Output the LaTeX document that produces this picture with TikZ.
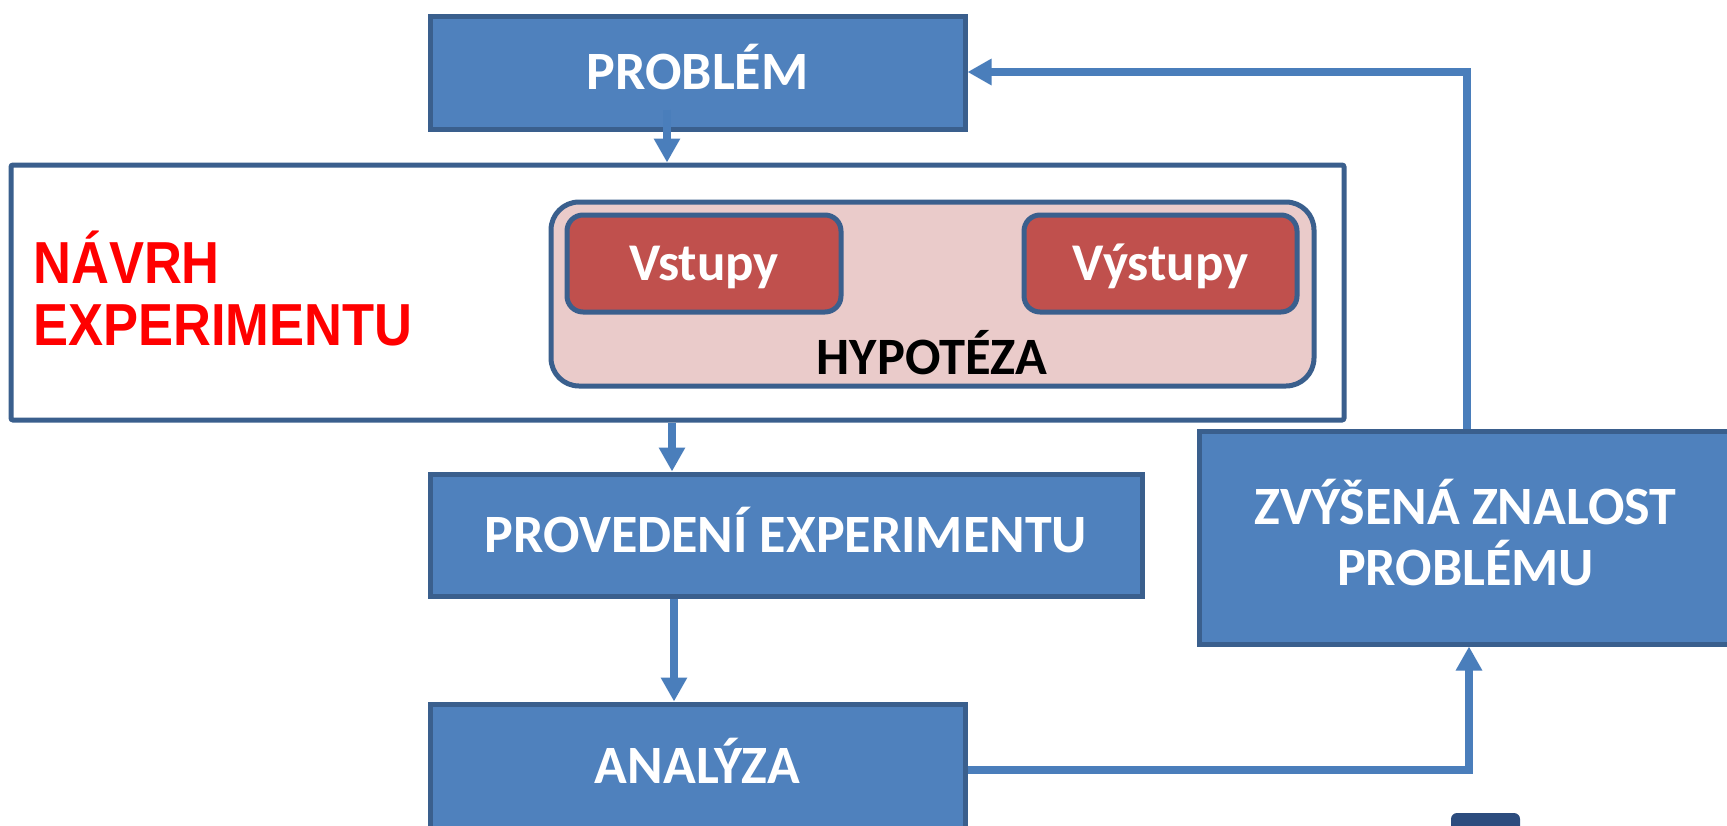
\documentclass[tikz,border=0pt]{standalone}
\usepackage{fontspec}
\usepackage{graphicx}
\setmainfont{Carlito}
\newfontfamily\arialfont{Liberation Sans}
\usetikzlibrary{arrows.meta}
\definecolor{boxblue}{HTML}{4F81BD}
\definecolor{edgeblue}{HTML}{3A5F8D}
\definecolor{linkblue}{HTML}{4A7EBB}
\definecolor{hypred}{HTML}{C0504D}
\definecolor{hyppink}{HTML}{EACBCA}
\definecolor{navyblock}{HTML}{2C4C7E}
\definecolor{titlered}{HTML}{FF0000}
\newcommand{\tallred}[1]{\scalebox{1}[1.13]{#1}}
\begin{document}
\begin{tikzpicture}[x=1pt,y=-1pt,
  bluebox/.style={draw=edgeblue, line width=5pt, fill=boxblue, text=white,
    font=\fontsize{54}{61}\selectfont\bfseries, align=center, inner sep=0pt,
    text height=34pt, text depth=0pt},
  framebox/.style={draw=edgeblue, line width=5pt, fill=white, rounded corners=2pt},
  hypbox/.style={draw=edgeblue, line width=5pt, fill=hyppink, rounded corners=28pt},
  varbox/.style={draw=edgeblue, line width=5pt, fill=hypred, rounded corners=16pt, text=white,
    font=\fontsize{53}{61}\selectfont\bfseries, inner sep=0pt, text height=33pt, text depth=0pt},
  redtitle/.style={text=titlered, font=\arialfont\fontsize{52.5}{62}\selectfont\bfseries,
    inner sep=0pt, anchor=base west},
  link/.style={draw=linkblue, line width=8pt},
  linkarrow/.style={link, -{Triangle[width=25pt,length=24pt]}}
]
\useasboundingbox (0,0) rectangle (1727,825);

% main flow boxes
\node[bluebox, minimum width=535pt, minimum height=113pt] (problem) at (697.5,72.5) {PROBLÉM};
\node[framebox, minimum width=1333pt, minimum height=255pt] (design) at (677.5,292.5) {};
\node[hypbox, minimum width=763pt, minimum height=184pt] (hyp) at (932.5,294) {};
\node[varbox, minimum width=274pt, minimum height=97pt] (inputs) at (704,263.5) {Vstupy};
\node[varbox, minimum width=273pt, minimum height=97pt] (outputs) at (1160.5,263.5) {Výstupy};
\node[font=\fontsize{52.5}{61}\selectfont\bfseries, inner sep=0pt, anchor=base] (hyplabel) at (932,374) {HYPOTÉZA};
\node[redtitle] (designA) at (33,283) {\tallred{NÁVRH}};
\node[redtitle] (designB) at (33,345) {\tallred{EXPERIMENTU}};
\node[bluebox, minimum width=712pt, minimum height=122pt] (run) at (786,535) {PROVEDENÍ EXPERIMENTU};
\node[bluebox, minimum width=535pt, minimum height=125pt] (analysis) at (697.5,766.5) {ANALÝZA};
\node[bluebox, minimum width=533pt, minimum height=213pt, text height=96pt] (knowledge) at (1465.5,537.5) {ZVÝŠENÁ ZNALOST\\PROBLÉMU};

% partly visible block at the lower edge
\node[fill=navyblock, rounded corners=6pt, minimum width=69pt, minimum height=40pt, inner sep=0pt] (corner) at (1485.5,833) {};

% connectors
\draw[linkarrow] ([yshift=22pt]problem.south -| 667,0) -- (design.north -| 667,0);
\draw[linkarrow] (design.south -| 672,0) -- (run.north -| 672,0);
\draw[linkarrow] (run.south -| 674,0) -- (analysis.north -| 674,0);
\draw[linkarrow] (analysis.east |- 0,770) -| (knowledge.south -| 1469,0);
\draw[linkarrow] (knowledge.north -| 1467,0) |- (problem.east |- 0,72);
\end{tikzpicture}
\end{document}
